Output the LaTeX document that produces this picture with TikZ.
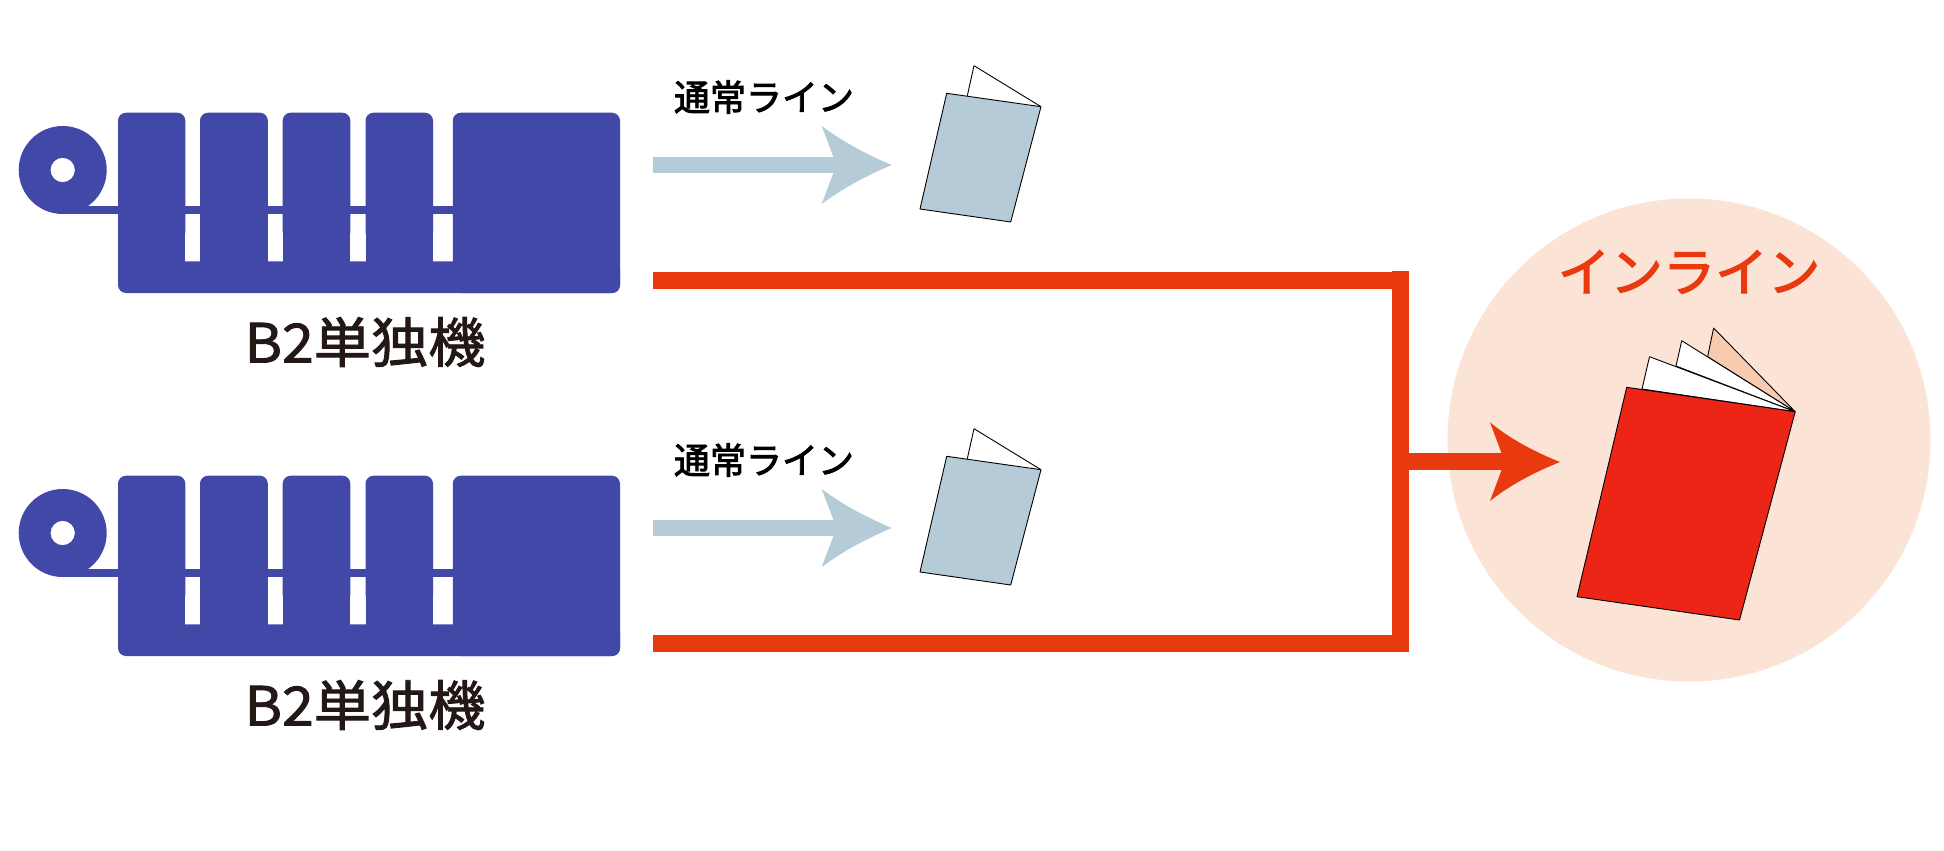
\documentclass[tikz,border=0pt]{standalone}
\usepackage{fontspec}
\setmainfont{Noto Sans CJK JP}
\newfontfamily\medfont[FakeBold=1.6]{Noto Sans CJK JP}
\newfontfamily\heavyfont[FakeBold=2.4]{Noto Sans CJK JP}
\definecolor{machine}{HTML}{4148A8}
\definecolor{lineblue}{HTML}{B5CBD8}
\definecolor{inred}{HTML}{E83A0E}
\definecolor{bookred}{HTML}{EC2516}
\definecolor{halo}{HTML}{FBE3D6}
\definecolor{peach}{HTML}{F7CBB0}
\definecolor{inkdark}{HTML}{231815}
\tikzset{
  machinefill/.style={fill=machine,draw=none},
  bookedge/.style={draw=black,line width=0.9pt,line join=bevel},
  pagewhite/.style={bookedge,fill=white},
  redline/.style={draw=inred,line width=17pt},
  blueline/.style={draw=lineblue,line width=16.6pt},
  lbl/.style={inner sep=0pt,outer sep=0pt,anchor=center},
}
\newcommand{\rowgroup}[1]{%
\begin{scope}[yshift=#1]
  % roll
  \fill[machinefill,even odd rule] (62.7,170) circle[radius=44] (62.7,170) circle[radius=12.2];
  \fill[machinefill] (62.7,206.3) rectangle (130,214);
  \fill[machinefill] (185,206.3) rectangle (460,214);
  % press units
  \fill[machinefill,rounded corners=8pt] (118,293) -- (118,112.7) -- (185.3,112.7) -- (185.3,240) -- (118,240) -- cycle;
  \fill[machinefill,rounded corners=8pt] (200,240) -- (200,112.7) -- (267.8,112.7) -- (267.8,240) -- cycle;
  \fill[machinefill,rounded corners=8pt] (282.7,240) -- (282.7,112.7) -- (350.3,112.7) -- (350.3,240) -- cycle;
  \fill[machinefill,rounded corners=8pt] (365.5,240) -- (365.5,112.7) -- (433,112.7) -- (433,240) -- cycle;
  \fill[machinefill,rounded corners=8pt] (452.8,293) -- (452.8,112.7) -- (620,112.7) -- (620,293) -- cycle;
  \fill[machinefill,rounded corners=8pt] (118,261.3) -- (118,293) -- (620,293) -- (620,261.3) -- cycle;
  \fill[machinefill] (118,230) rectangle (185.3,270);
  \fill[machinefill] (200,230) rectangle (267.8,270);
  \fill[machinefill] (282.7,230) rectangle (350.3,270);
  \fill[machinefill] (365.5,230) rectangle (433,270);
  \fill[machinefill] (452.8,230) rectangle (620,270);
  % normal line arrow
  \coordinate (s#1) at (653,165);
  \coordinate (e#1) at (836,165);
  \draw[blueline] (s#1) -- (e#1);
  \fill[lineblue] (821.7,126) .. controls (843,142) and (868,155) .. (891.7,165)
     .. controls (868,175) and (843,188) .. (821.7,204) -- (833.3,173.3) -- (833.3,156.7) -- cycle;
  % small booklet
  \draw[pagewhite] (967.3,95.7) -- (974,65.7) -- (1041,106.7);
  \draw[bookedge,fill=lineblue] (946.7,93.3) -- (1041,106.7) -- (1010.7,222) -- (920,209) -- cycle;
\end{scope}}
\begin{document}
\begin{tikzpicture}[x=1pt,y=-1pt]
\useasboundingbox (0,0) rectangle (1944,851);
\fill[halo] (1689,440) circle[radius=241.5];
\rowgroup{0pt}
\rowgroup{-363pt}
\node[lbl,text=inkdark] (m1) at (365,342) {\fontsize{54}{54}\medfont\selectfont\scalebox{1.06}[1]{B2単独機}};
\node[lbl,text=inkdark] (m2) at (365,705) {\fontsize{54}{54}\medfont\selectfont\scalebox{1.06}[1]{B2単独機}};
\node[lbl,text=black] (n1) at (764,97) {\fontsize{36}{36}\heavyfont\selectfont 通常ライン};
\node[lbl,text=black] (n2) at (764,460) {\fontsize{36}{36}\heavyfont\selectfont 通常ライン};
\node[lbl,text=inred] (il) at (1689,272) {\fontsize{52.5}{52.5}\heavyfont\selectfont インライン};
% inline connectors
\coordinate (a1) at (653,280);
\coordinate (a2) at (1400,280);
\coordinate (b1) at (653,643);
\coordinate (b2) at (1400,643);
\coordinate (c1) at (1400,271);
\coordinate (c2) at (1400,651.7);
\coordinate (d1) at (1400,461.7);
\coordinate (d2) at (1505,461.7);
\draw[redline] (a1) -- (a2);
\draw[redline] (b1) -- (b2);
\draw[redline] (c1) -- (c2);
\draw[redline] (d1) -- (d2);
\fill[inred] (1490,422.3) .. controls (1510,439) and (1535,452) .. (1560,462)
   .. controls (1535,472) and (1510,485) .. (1490,501) -- (1501.6,470) -- (1501.6,453.3) -- cycle;
% inline book
\draw[bookedge,fill=peach] (1707.6,356.7) -- (1713.6,328) -- (1795.2,411.7) -- cycle;
\draw[pagewhite] (1676,366) -- (1681.7,340.7) -- (1795.2,411.7) -- cycle;
\draw[pagewhite] (1642,389) -- (1649.5,356.7) -- (1795.2,411.7) -- cycle;
\draw[bookedge,fill=bookred] (1626.7,387.3) -- (1795.2,411.7) -- (1739.5,620) -- (1577,596.7) -- cycle;
\end{tikzpicture}
\end{document}
